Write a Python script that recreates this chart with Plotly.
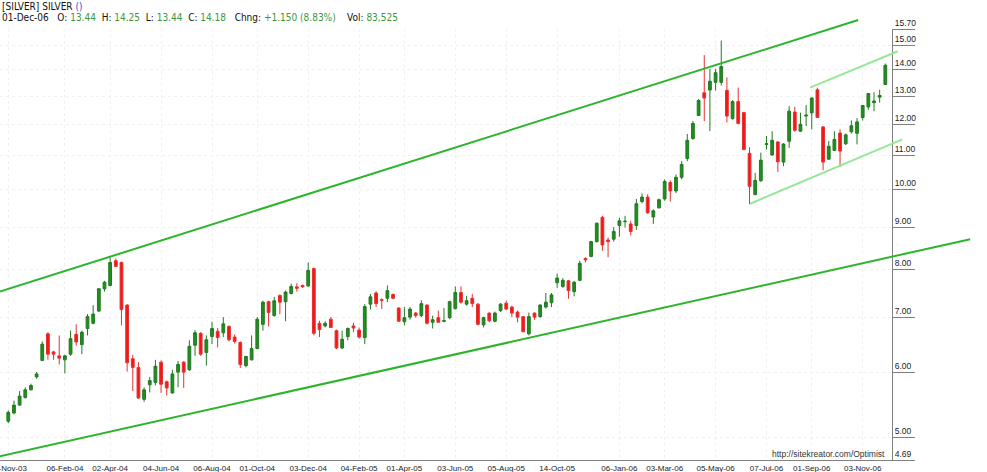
import math
import plotly.graph_objects as go

# weekly bars, 28-Nov-03 .. 01-Dec-06
opens = [5.23, 5.35, 5.47, 5.59, 5.71, 5.92, 6.20, 6.68, 6.35, 6.28,
         6.21, 6.31, 6.67, 6.48, 6.78, 6.88, 7.12, 7.58, 7.65, 8.20,
         8.16, 7.24, 6.23, 6.08, 5.56, 5.79, 5.83, 6.17, 5.84, 5.66,
         6.00, 6.17, 6.04, 6.47, 6.69, 6.34, 6.63, 6.73, 6.70, 6.82,
         6.62, 6.52, 6.11, 6.21, 6.41, 6.86, 7.31, 7.03, 7.44, 7.31,
         7.48, 7.62, 7.65, 7.64, 8.02, 6.88, 6.83, 6.96, 6.74, 6.42,
         6.63, 6.83, 6.75, 6.61, 7.26, 7.49, 7.35, 7.38, 7.46, 7.18,
         6.91, 7.00, 7.08, 7.03, 7.24, 6.90, 6.99, 6.92, 6.99, 7.17,
         7.50, 7.26, 7.38, 7.26, 6.85, 7.08, 6.92, 7.13, 7.28, 7.20,
         7.10, 7.01, 6.68, 7.08, 7.01, 7.20, 7.29, 7.71, 7.63, 7.75,
         7.52, 7.76, 8.25, 8.30, 8.65, 9.26, 8.69, 8.71, 9.05, 9.15,
         9.09, 9.05, 9.68, 9.80, 9.27, 9.51, 9.75, 10.21, 9.97, 10.36,
         10.92, 11.55, 12.32, 13.13, 13.23, 13.52, 13.52, 13.22, 12.21, 12.81,
         12.42, 11.08, 9.87, 10.26, 11.36, 11.03, 11.44, 10.81, 11.46, 12.44,
         11.79, 12.30, 12.41, 13.24, 11.93, 10.90, 11.17, 11.73, 11.38, 11.77,
         11.72, 12.25, 12.62, 12.77, 12.97, 13.44]
highs = [5.39, 5.54, 5.69, 5.75, 5.81, 6.00, 6.54, 6.71, 6.37, 6.65,
         6.30, 6.74, 6.86, 6.74, 7.06, 7.24, 7.59, 7.75, 8.28, 8.25,
         8.18, 7.26, 6.30, 6.17, 5.75, 5.92, 6.21, 6.20, 5.86, 6.04,
         6.19, 6.19, 6.56, 6.75, 6.71, 6.65, 6.91, 6.79, 7.00, 6.84,
         6.67, 6.54, 6.28, 6.65, 7.00, 7.33, 7.33, 7.41, 7.46, 7.54,
         7.69, 7.70, 7.67, 8.16, 8.04, 6.93, 6.92, 7.00, 6.76, 6.74,
         6.80, 6.89, 6.80, 7.26, 7.47, 7.53, 7.38, 7.65, 7.48, 7.20,
         7.20, 7.20, 7.10, 7.34, 7.26, 7.03, 7.13, 7.18, 7.33, 7.63,
         7.63, 7.43, 7.47, 7.28, 7.01, 7.09, 7.11, 7.28, 7.33, 7.23,
         7.13, 7.02, 7.09, 7.09, 7.26, 7.49, 7.49, 7.91, 7.81, 7.77,
         7.75, 8.20, 8.28, 8.67, 9.12, 9.30, 8.75, 9.01, 9.25, 9.30,
         9.17, 9.75, 9.90, 9.88, 9.47, 9.76, 10.30, 10.27, 10.44, 10.84,
         11.70, 12.13, 12.90, 14.59, 14.04, 14.04, 15.20, 13.71, 12.86, 13.32,
         12.45, 11.27, 10.49, 11.10, 11.63, 11.79, 11.46, 11.40, 12.65, 12.62,
         12.42, 12.69, 12.96, 13.32, 11.96, 11.47, 11.79, 11.85, 11.71, 12.15,
         12.23, 12.69, 13.12, 13.15, 13.24, 14.25]
lows = [5.20, 5.33, 5.46, 5.57, 5.70, 5.89, 6.19, 6.21, 6.21, 6.13,
        5.98, 6.28, 6.46, 6.31, 6.65, 6.86, 7.10, 7.52, 7.63, 8.06,
        6.84, 6.01, 5.69, 5.57, 5.52, 5.67, 5.78, 5.66, 5.62, 5.65,
        5.75, 5.74, 6.02, 6.28, 6.28, 6.11, 6.49, 6.43, 6.62, 6.54,
        6.50, 6.07, 6.08, 6.20, 6.40, 6.74, 6.82, 7.01, 7.06, 6.92,
        7.46, 7.52, 7.60, 7.62, 6.65, 6.62, 6.80, 6.79, 6.40, 6.40,
        6.56, 6.71, 6.59, 6.49, 7.15, 7.20, 7.16, 7.30, 7.36, 6.91,
        6.84, 6.95, 6.99, 7.00, 6.86, 6.78, 6.89, 6.90, 6.96, 7.15,
        7.27, 7.23, 7.20, 6.84, 6.80, 6.90, 6.90, 7.10, 7.14, 7.00,
        6.90, 6.71, 6.65, 6.95, 6.99, 7.17, 7.20, 7.60, 7.60, 7.37,
        7.42, 7.75, 8.16, 8.28, 8.63, 8.43, 8.28, 8.65, 8.77, 9.00,
        8.80, 8.94, 9.63, 9.35, 9.09, 9.49, 9.70, 9.68, 9.91, 10.30,
        10.84, 11.51, 12.30, 12.13, 11.79, 13.21, 13.40, 12.08, 12.18, 12.02,
        11.17, 9.61, 9.85, 10.23, 11.20, 11.00, 10.52, 10.69, 11.25, 11.77,
        11.77, 11.96, 11.85, 12.24, 10.57, 10.88, 11.15, 10.67, 11.34, 11.71,
        11.36, 12.15, 12.52, 12.47, 12.77, 13.44]
closes = [5.36, 5.47, 5.61, 5.71, 5.78, 5.97, 6.49, 6.31, 6.31, 6.24,
          6.28, 6.59, 6.53, 6.71, 7.01, 7.06, 7.58, 7.72, 8.16, 8.07,
          7.15, 6.16, 6.08, 5.58, 5.71, 5.86, 6.10, 5.80, 5.74, 5.97,
          6.13, 6.00, 6.45, 6.70, 6.31, 6.57, 6.78, 6.61, 6.87, 6.57,
          6.54, 6.13, 6.27, 6.41, 6.96, 7.30, 7.09, 7.33, 7.30, 7.51,
          7.63, 7.59, 7.62, 7.98, 6.69, 6.76, 6.88, 6.80, 6.42, 6.58,
          6.78, 6.79, 6.62, 7.21, 7.41, 7.27, 7.34, 7.54, 7.38, 6.92,
          6.99, 7.16, 7.03, 7.27, 6.88, 6.95, 6.90, 6.93, 7.31, 7.50,
          7.30, 7.33, 7.27, 6.86, 6.99, 6.93, 7.08, 7.26, 7.16, 7.08,
          7.00, 6.72, 7.01, 7.00, 7.24, 7.30, 7.45, 7.81, 7.76, 7.54,
          7.72, 8.14, 8.22, 8.65, 9.11, 8.57, 8.65, 8.90, 9.17, 9.16,
          8.90, 9.62, 9.80, 9.38, 9.43, 9.73, 10.24, 9.97, 10.36, 10.74,
          11.49, 12.05, 12.85, 12.94, 13.56, 13.89, 14.13, 12.30, 12.81, 12.05,
          11.20, 10.10, 10.27, 10.87, 11.38, 11.49, 10.82, 11.37, 12.47, 11.82,
          12.02, 12.33, 12.94, 12.25, 10.81, 11.30, 11.52, 11.15, 11.67, 11.97,
          12.10, 12.67, 13.10, 12.83, 13.03, 14.18]

# date labels shown under the bars (bar number -> label)
tick_bars = [0, 10, 18, 27, 36, 44, 53, 62, 70, 79, 88, 97, 108, 116, 125, 134, 142, 151]
tick_labels = ["28-Nov-03", "06-Feb-04", "02-Apr-04", "04-Jun-04", "06-Aug-04", "01-Oct-04",
               "03-Dec-04", "04-Feb-05", "01-Apr-05", "03-Jun-05", "05-Aug-05", "14-Oct-05",
               "06-Jan-06", "03-Mar-06", "05-May-06", "07-Jul-06", "01-Sep-06", "03-Nov-06"]
price_ticks = [4.69, 5.00, 6.00, 7.00, 8.00, 9.00, 10.00, 11.00, 12.00, 13.00, 14.00, 15.00, 15.70]

# trend lines: (bar, price) end points
chan_top_x = [-1.5, 150.2]
chan_top_y = [7.52, 16.1]
chan_bot_x = [-1.5, 170.0]
chan_bot_y = [4.74, 8.71]
wedge_top_x = [141.7, 157.2]
wedge_top_y = [13.32, 14.75]
wedge_bot_x = [131.1, 158.0]
wedge_bot_y = [9.62, 11.52]

last = dict(date="01-Dec-06", o=13.44, h=14.25, l=13.44, c=14.18,
            chng="+1.150", pct="8.83%", vol="83,525")

W, H = 987, 472
FONT = "Liberation Sans Narrow, DejaVu Sans Condensed, Liberation Sans, Arial"
TICKFONT = "Liberation Sans, Arial"
bars = list(range(len(closes)))

# main plot area (pixels) and its data range
px_left, px_right, px_top, px_bottom = 0, 892, 29, 460
x_rng = [-1.467, 156.18]
y_rng = [math.log10(price_ticks[0]), math.log10(price_ticks[-1])]

xd = [px_left / W, px_right / W]
yd = [(H - px_bottom) / H, (H - px_top) / H]

# overlay axes covering whole figure with the same scale (lines run past the frame)
sx = (x_rng[1] - x_rng[0]) / (xd[1] - xd[0])
x2_rng = [x_rng[0] - xd[0] * sx, x_rng[0] + (1 - xd[0]) * sx]
sy = (y_rng[1] - y_rng[0]) / (yd[1] - yd[0])
y2_rng = [y_rng[0] - yd[0] * sy, y_rng[0] + (1 - yd[0]) * sy]

fig = go.Figure()
fig.add_trace(go.Candlestick(
    x=bars, open=opens, high=highs, low=lows, close=closes,
    increasing=dict(line=dict(color="#237a23", width=1), fillcolor="#1f8f1f"),
    decreasing=dict(line=dict(color="#e83030", width=1), fillcolor="#f51515"),
    whiskerwidth=0, hoverinfo="skip", showlegend=False,
))

for xs, ys, col in [(chan_top_x, chan_top_y, "#2cb52c"), (chan_bot_x, chan_bot_y, "#2cb52c"),
                    (wedge_top_x, wedge_top_y, "#96e896"), (wedge_bot_x, wedge_bot_y, "#96e896")]:
    fig.add_trace(go.Scatter(x=xs, y=ys, mode="lines", xaxis="x2", yaxis="y2",
                             line=dict(color=col, width=2), hoverinfo="skip", showlegend=False))

fig.update_layout(
    width=W, height=H,
    margin=dict(l=0, r=0, t=0, b=0, autoexpand=False),
    paper_bgcolor="white", plot_bgcolor="rgba(0,0,0,0)",
    font=dict(family=FONT, size=9, color="#222222"),
    xaxis=dict(domain=xd, range=x_rng, anchor="y", automargin=False, tickangle=0,
               tickmode="array", tickvals=tick_bars, ticktext=tick_labels,
               ticks="", showline=True, linecolor="#808080", linewidth=1,
               showgrid=True, gridcolor="#f1f1f1", griddash="dot", zeroline=False,
               ticklabeloverflow="allow", rangeslider=dict(visible=False),
               tickfont=dict(family=TICKFONT, size=8, color="#222222")),
    yaxis=dict(domain=yd, range=y_rng, type="log", anchor="x", side="right", automargin=False,
               tickmode="array", tickvals=price_ticks,
               ticktext=["%.2f" % v for v in price_ticks],
               ticks="outside", ticklen=22, tickcolor="#808080", tickwidth=1,
               ticklabelposition="outside top", ticklabelstandoff=0,
               showline=True, linecolor="#808080", linewidth=1,
               showgrid=True, gridcolor="#f1f1f1", griddash="dot", zeroline=False,
               ticklabeloverflow="allow",
               tickfont=dict(family=TICKFONT, size=8.5, color="#222222")),
    xaxis2=dict(domain=[0, 1], range=x2_rng, anchor="y2", visible=False, automargin=False),
    yaxis2=dict(domain=[0, 1], range=y2_rng, type="log", anchor="x2", visible=False, automargin=False),
)

green = "#3c963c"
line2 = (f"{last['date']}&nbsp;&nbsp;&nbsp;O: <span style='color:{green}'>{last['o']:.2f}</span>"
         f"&nbsp;&nbsp;H: <span style='color:{green}'>{last['h']:.2f}</span>"
         f"&nbsp;&nbsp;L: <span style='color:{green}'>{last['l']:.2f}</span>"
         f"&nbsp;&nbsp;C: <span style='color:{green}'>{last['c']:.2f}</span>"
         f"&nbsp;&nbsp;&nbsp;Chng: <span style='color:{green}'>{last['chng']} ({last['pct']})</span>"
         f"&nbsp;&nbsp;&nbsp;&nbsp;Vol: <span style='color:{green}'>{last['vol']}</span>")
fig.add_annotation(x=0, y=1 - 6.5 / H, xref="paper", yref="paper", xanchor="left", yanchor="middle",
                   text="[SILVER] SILVER <span style='color:#3050c0'>()</span>",
                   showarrow=False, font=dict(family=FONT, size=10, color="#111111"))
fig.add_annotation(x=0, y=1 - 17 / H, xref="paper", yref="paper", xanchor="left", yanchor="middle",
                   text=line2, showarrow=False, font=dict(family=FONT, size=10, color="#111111"))
fig.add_annotation(x=887 / W, y=1 - 454 / H, xref="paper", yref="paper", xanchor="right", yanchor="middle",
                   text="http://sitekreator.com/Optimist", showarrow=False,
                   font=dict(family=TICKFONT, size=8.5, color="#333333"))

fig.write_html("out.html", config={"displayModeBar": False},
               post_script="document.body.style.margin='0px';")
